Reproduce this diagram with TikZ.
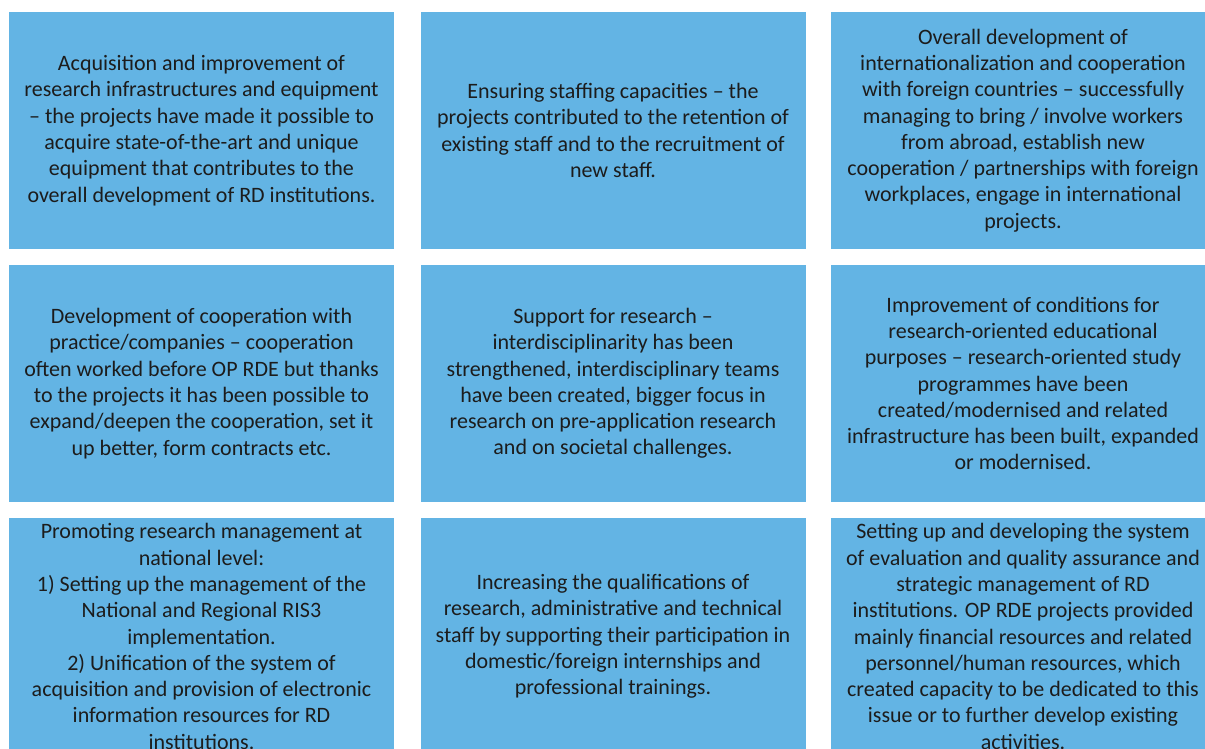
\documentclass[tikz,border=0pt]{standalone}
\usepackage{fontspec}
\setmainfont{Carlito}
\definecolor{bleu}{HTML}{63B4E4}
\definecolor{texte}{HTML}{1C1C1C}

\begin{document}
\begin{tikzpicture}[x=1pt,y=1pt,
    bloc/.style={fill=bleu, text=texte, minimum width=385pt, minimum height=237pt,
      inner sep=0pt, align=center, font=\fontsize{22}{26.3}\selectfont}]
        % Cadre de l'image
        \useasboundingbox (0,0) rectangle (1205,749);
        \clip (0,0) rectangle (1205,749);
        % Premiere rangee
        \node[bloc] (infra) at (201.5,618.5) {Acquisition and improvement of\\research infrastructures and equipment\\– the projects have made it possible to\\acquire state-of-the-art and unique\\equipment that contributes to the\\overall development of RD institutions.};
        \node[bloc] (staff) at (613,618.5) {Ensuring staffing capacities – the\\projects contributed to the retention of\\existing staff and to the recruitment of\\new staff.};
        \node[bloc] (inter) at (1023,618.5) {Overall development of\\internationalization and cooperation\\with foreign countries – successfully\\managing to bring / involve workers\\from abroad, establish new\\cooperation / partnerships with foreign\\workplaces, engage in international\\projects.};
        % Deuxieme rangee
        \node[bloc] (coop) at (201.5,365.5) {Development of cooperation with\\practice/companies – cooperation\\often worked before OP RDE but thanks\\to the projects it has been possible to\\expand/deepen the cooperation, set it\\up better, form contracts etc.};
        \node[bloc] (support) at (613,365.5) {Support for research –\\interdisciplinarity has been\\strengthened, interdisciplinary teams\\have been created, bigger focus in\\research on pre-application research\\and on societal challenges.};
        \node[bloc] (educ) at (1023,365.5) {Improvement of conditions for\\research-oriented educational\\purposes – research-oriented study\\programmes have been\\created/modernised and related\\infrastructure has been built, expanded\\or modernised.};
        % Troisieme rangee
        \node[bloc] (manag) at (201.5,112.5) {Promoting research management at\\national level:\\1) Setting up the management of the\\National and Regional RIS3\\implementation.\\2) Unification of the system of\\acquisition and provision of electronic\\information resources for RD\\institutions.};
        \node[bloc] (qualif) at (613,112.5) {Increasing the qualifications of\\research, administrative and technical\\staff by supporting their participation in\\domestic/foreign internships and\\professional trainings.};
        \node[bloc] (eval) at (1023,112.5) {Setting up and developing the system\\of evaluation and quality assurance and\\strategic management of RD\\institutions. OP RDE projects provided\\mainly financial resources and related\\personnel/human resources, which\\created capacity to be dedicated to this\\issue or to further develop existing\\activities.};
    \end{tikzpicture}
\end{document}
